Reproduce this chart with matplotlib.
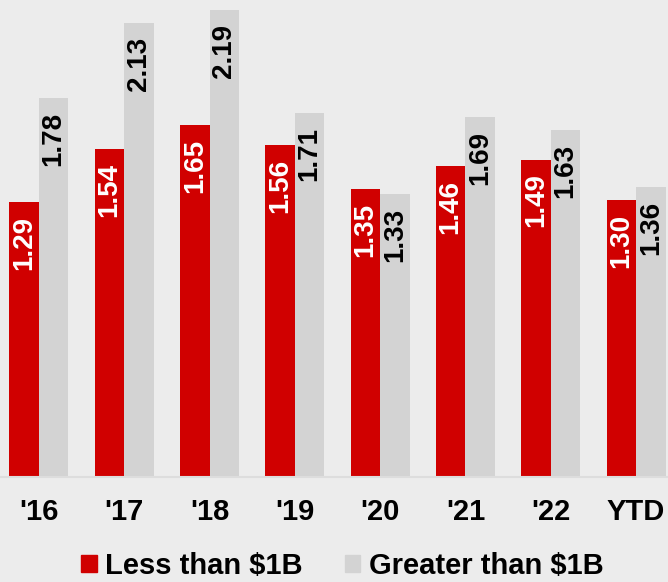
import numpy as np
import matplotlib.pyplot as plt
from matplotlib.patches import Patch

# datos del grafico
periodos = ["'16", "'17", "'18", "'19", "'20", "'21", "'22", "YTD"]
menos_1b = [1.29, 1.54, 1.65, 1.56, 1.35, 1.46, 1.49, 1.30]
mas_1b = [1.78, 2.13, 2.19, 1.71, 1.33, 1.69, 1.63, 1.36]
series = ["Less than $1B", "Greater than $1B"]

rojo = '#d00000'
gris = '#d3d3d3'
fondo = '#ececec'

plt.rcParams['font.family'] = ['Liberation Sans', 'DejaVu Sans']

fig = plt.figure(figsize=(6.68, 5.82), dpi=100, facecolor=fondo)
ax = fig.add_axes([0, 0.1804, 1, 0.8196])
ax.set_facecolor(fondo)

x = np.arange(len(periodos))
ancho = 0.346
barras1 = ax.bar(x - ancho / 2, menos_1b, ancho, color=rojo)
barras2 = ax.bar(x + ancho / 2, mas_1b, ancho, color=gris)

# etiquetas dentro de las barras
for barras, color in [(barras1, 'white'), (barras2, 'black')]:
    for b in barras:
        ax.annotate(f"{b.get_height():.2f}", (b.get_x() + b.get_width() / 2, b.get_height()),
                    xytext=(0, -10), textcoords='offset points', rotation=90,
                    ha='center', va='top', color=color, fontsize=20, fontweight='bold')

ax.set_xlim(-0.457, 7.374)
ax.set_ylim(0, 2.239)
ax.set_xticks(x)
ax.set_xticklabels(periodos, fontsize=21, fontweight='bold')
ax.tick_params(axis='x', length=0, pad=15)
ax.set_yticks([])
for lado in ['top', 'right', 'left']:
    ax.spines[lado].set_visible(False)
ax.spines['bottom'].set_color('#dddddd')
ax.spines['bottom'].set_linewidth(1.5)

handles = [Patch(color=rojo), Patch(color=gris)]
fig.legend(handles, series, loc='center', bbox_to_anchor=(0.513, 0.028), ncol=2,
           frameon=False, prop={'size': 21, 'weight': 'bold'},
           handlelength=0.52, handleheight=0.52, handletextpad=0.3, columnspacing=1.45,
           borderpad=0.1)

plt.savefig("out.png", dpi=100, facecolor=fondo)
